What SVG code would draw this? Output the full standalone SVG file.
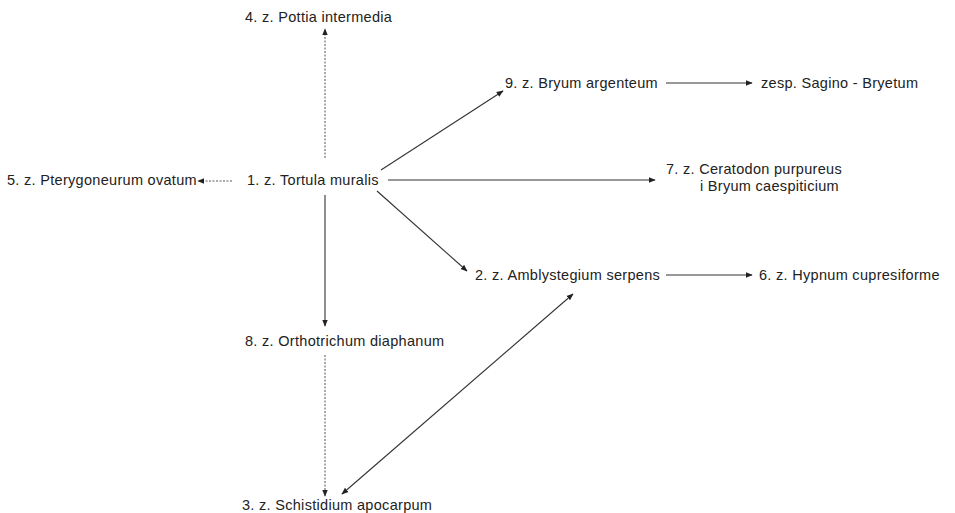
<svg xmlns="http://www.w3.org/2000/svg" width="955" height="513" viewBox="0 0 955 513">
<defs>
<marker id="ah" viewBox="0 0 10 10" refX="9" refY="5" markerWidth="7" markerHeight="7" markerUnits="userSpaceOnUse" orient="auto-start-reverse">
<path d="M0,1 L10,5 L0,9 z" fill="#222"/>
</marker>
<style>
text{font-family:"Liberation Sans",Arial,sans-serif;font-size:14.5px;letter-spacing:0.3px;fill:#222}
.s{stroke:#333;stroke-width:1.1;fill:none}
.d{stroke:#555;stroke-width:1;fill:none;stroke-dasharray:2 1.5}
</style>
</defs>
<rect width="955" height="513" fill="#fff"/>
<g id="connectors">
<line class="d" x1="325" y1="158" x2="325" y2="29" marker-end="url(#ah)"/>
<line class="d" x1="232" y1="181" x2="198" y2="181" marker-end="url(#ah)"/>
<line class="s" x1="325" y1="195" x2="325" y2="326" marker-end="url(#ah)"/>
<line class="d" x1="325" y1="355" x2="325" y2="496" marker-end="url(#ah)"/>
<line class="s" x1="381" y1="170" x2="503" y2="91" marker-end="url(#ah)"/>
<line class="s" x1="388" y1="180" x2="655" y2="180" marker-end="url(#ah)"/>
<line class="s" x1="377" y1="191" x2="467" y2="271" marker-end="url(#ah)"/>
<line class="s" x1="666" y1="83" x2="752" y2="83" marker-end="url(#ah)"/>
<line class="s" x1="666" y1="275" x2="752" y2="275" marker-end="url(#ah)"/>
<line class="s" x1="573" y1="294" x2="342" y2="494" marker-start="url(#ah)" marker-end="url(#ah)"/>
</g>
<g id="n1"><text x="247" y="185">1. z. Tortula muralis</text></g>
<g id="n2"><text x="475" y="280">2. z. Amblystegium serpens</text></g>
<g id="n3"><text x="242" y="510">3. z. Schistidium apocarpum</text></g>
<g id="n4"><text x="245" y="22">4. z. Pottia intermedia</text></g>
<g id="n5"><text x="7" y="185">5. z. Pterygoneurum ovatum</text></g>
<g id="n6"><text x="759" y="280">6. z. Hypnum cupresiforme</text></g>
<g id="n7"><text x="666" y="174">7. z. Ceratodon purpureus</text><text x="700" y="191">i Bryum caespiticium</text></g>
<g id="n8"><text x="245" y="346">8. z. Orthotrichum diaphanum</text></g>
<g id="n9"><text x="505" y="88">9. z. Bryum argenteum</text></g>
<g id="n10"><text x="761" y="88">zesp. Sagino - Bryetum</text></g>
</svg>
